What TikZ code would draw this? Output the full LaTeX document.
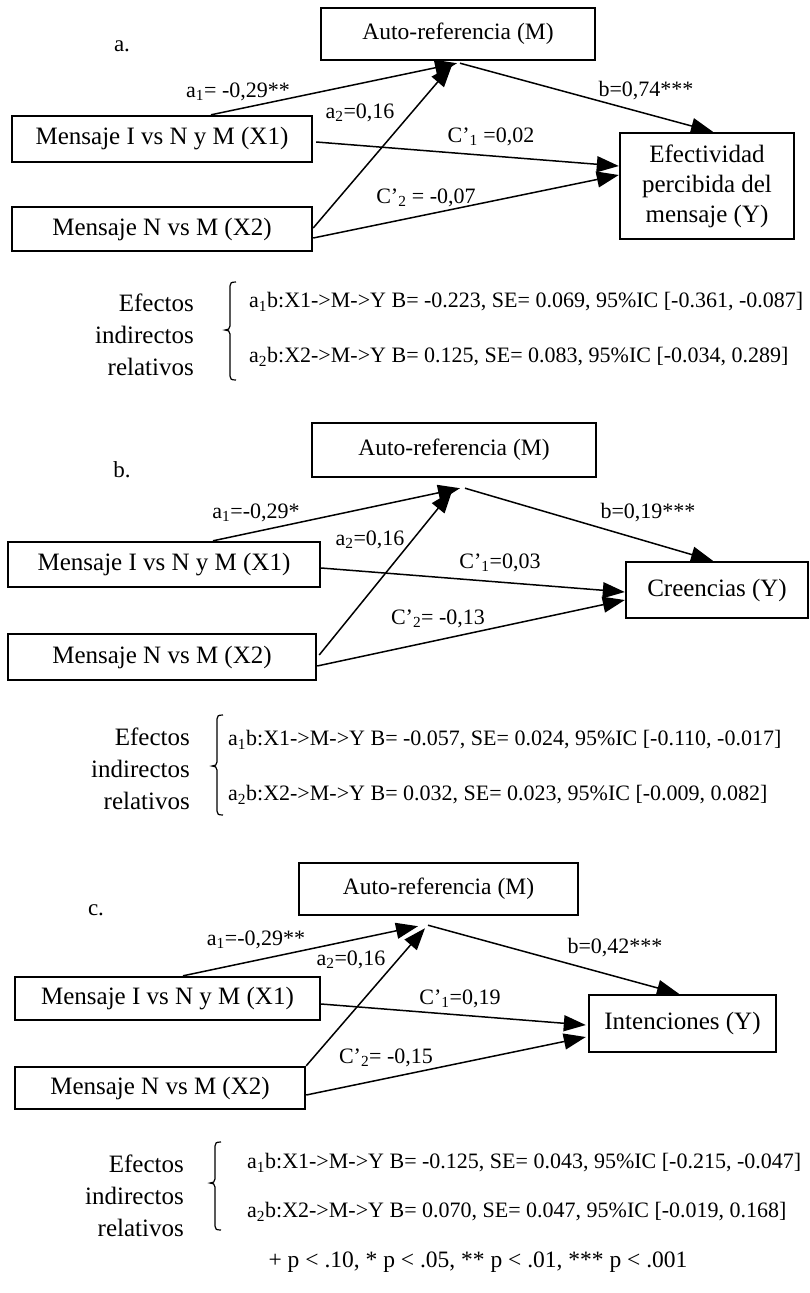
\documentclass[tikz,border=0pt]{standalone}
\usepackage{fontspec}
\setmainfont{Liberation Serif}
\usetikzlibrary{arrows.meta,calc}
\newcommand\mybrk[4]{% x, top, mid, bottom
  \draw[brk] ({#1+6},#2) .. controls ({#1+1},#2) and (#1,{#2+1}) .. (#1,{#2+4})
    -- (#1,{#3-4}) .. controls (#1,{#3-1}) and ({#1-2},#3) .. ({#1-5},#3)
    .. controls ({#1-2},#3) and (#1,{#3+1}) .. (#1,{#3+4})
    -- (#1,{#4-4}) .. controls (#1,{#4-1}) and ({#1+1},#4) .. ({#1+6},#4);}
\begin{document}
\begin{tikzpicture}[x=1pt,y=-1pt,
  box/.style={draw, line width=2.4pt, inner sep=0pt, font=\fontsize{25}{30}\selectfont},
  mbox/.style={box, font=\fontsize{23.5}{28}\selectfont},
  lab/.style={font=\fontsize{22}{26}\selectfont, inner sep=0pt},
  plet/.style={font=\fontsize{23}{26}\selectfont, inner sep=0pt},
  arr/.style={line width=1.5pt, -{Triangle[length=22pt,width=16pt]}},
  eff/.style={font=\fontsize{22}{26}\selectfont, inner sep=0pt, anchor=west},
  efflab/.style={font=\fontsize{25}{32}\selectfont, align=right, inner sep=0pt, anchor=east},
  brk/.style={line width=1.2pt}]
\useasboundingbox (0,0) rectangle (810,1293);

% ---------------- panel a ----------------
\node[plet] (la) at (122,46) {a.};
\node[mbox, minimum width=274pt, minimum height=52pt] (Ma) at (458,34) {Auto-referencia (M)};
\node[box, minimum width=300pt, minimum height=46pt] (X1a) at (162,139) {Mensaje I vs N y M (X1)};
\node[box, minimum width=300pt, minimum height=44pt] (X2a) at (162,229) {Mensaje N vs M (X2)};
\node[box, minimum width=174pt, minimum height=106pt, align=center] (Ya) at (707,186) {Efectividad\\percibida del\\mensaje (Y)};
\draw[arr] ($(X1a.north)+(49,0)$) -- ($(Ma.south)+(-1,2)$);
\draw[arr] ($(X2a.east)+(0,-1)$) -- ($(Ma.south)+(-6,4)$);
\draw[arr] ($(Ma.south)+(2,2)$) -- ($(Ya.north)+(6,0)$);
\draw[arr] ($(X1a.east)+(3,3)$) -- ($(Ya.west)+(0,-20)$);
\draw[arr] ($(X2a.east)+(0,9)$) -- ($(Ya.west)+(0,-11)$);
\node[lab] (a1a) at (238,92) {a\textsubscript{1}= -0,29**};
\node[lab] (a2a) at (360,113) {a\textsubscript{2}=0,16};
\node[lab] (ba) at (646,91) {b=0,74***};
\node[lab] (c1a) at (491,137) {C’\textsubscript{1} =0,02};
\node[lab] (c2a) at (426,198) {C’\textsubscript{2} = -0,07};
\node[efflab] (Ea) at (194,335) {Efectos\\indirectos\\relativos};
\mybrk{230}{282}{330}{380}
\node[eff] (ea1) at (249,302) {a\textsubscript{1}b:X1->M->Y B= -0.223, SE= 0.069, 95\%IC [-0.361, -0.087]};
\node[eff] (ea2) at (249,357) {a\textsubscript{2}b:X2->M->Y B= 0.125, SE= 0.083, 95\%IC [-0.034, 0.289]};

% ---------------- panel b ----------------
\node[plet] (lb) at (122,470) {b.};
\node[mbox, minimum width=284pt, minimum height=54pt] (Mb) at (454,450) {Auto-referencia (M)};
\node[box, minimum width=312pt, minimum height=45pt] (X1b) at (164,564.5) {Mensaje I vs N y M (X1)};
\node[box, minimum width=308pt, minimum height=46pt] (X2b) at (162,657) {Mensaje N vs M (X2)};
\node[box, minimum width=182pt, minimum height=56pt] (Yb) at (717,590) {Creencias (Y)};
\draw[arr] ($(X1b.north)+(49,0)$) -- ($(Mb.south)+(6,10)$);
\draw[arr] ($(X2b.east)+(2,-2)$) -- ($(Mb.south)+(-2,13)$);
\draw[arr] ($(Mb.south)+(11,10)$) -- ($(Yb.north)+(-4,0)$);
\draw[arr] ($(X1b.east)+(0,3.5)$) -- ($(Yb.west)+(0,2)$);
\draw[arr] ($(X2b.east)+(0,9)$) -- ($(Yb.west)+(0,10)$);
\node[lab] (a1b) at (256,513) {a\textsubscript{1}=-0,29*};
\node[lab] (a2b) at (370,540) {a\textsubscript{2}=0,16};
\node[lab] (bb) at (648,513) {b=0,19***};
\node[lab] (c1b) at (500,563) {C’\textsubscript{1}=0,03};
\node[lab] (c2b) at (438,619) {C’\textsubscript{2}= -0,13};
\node[efflab] (Eb) at (190,769) {Efectos\\indirectos\\relativos};
\mybrk{217}{715}{766}{815}
\node[eff] (eb1) at (228,740) {a\textsubscript{1}b:X1->M->Y B= -0.057, SE= 0.024, 95\%IC [-0.110, -0.017]};
\node[eff] (eb2) at (228,795) {a\textsubscript{2}b:X2->M->Y B= 0.032, SE= 0.023, 95\%IC [-0.009, 0.082]};

% ---------------- panel c ----------------
\node[plet] (lc) at (96,910) {c.};
\node[mbox, minimum width=279pt, minimum height=52pt] (Mc) at (438.5,889) {Auto-referencia (M)};
\node[box, minimum width=305pt, minimum height=43pt] (X1c) at (167.5,998.5) {Mensaje I vs N y M (X1)};
\node[box, minimum width=290pt, minimum height=42pt] (X2c) at (160,1088) {Mensaje N vs M (X2)};
\node[box, minimum width=187pt, minimum height=57pt] (Yc) at (682.5,1023.5) {Intenciones (Y)};
\draw[arr] ($(X1c.north)+(15.5,0)$) -- ($(Mc.south)+(-20.5,10)$);
\draw[arr] (X2c.north east) -- ($(Mc.south)+(-13.5,12)$);
\draw[arr] ($(Mc.south)+(-10.5,9)$) -- ($(Yc.north)+(-3.5,0)$);
\draw[arr] ($(X1c.east)+(0,5.5)$) -- ($(Yc.west)+(-2,1.5)$);
\draw[arr] ($(X2c.east)+(0,7)$) -- ($(Yc.west)+(-2,13.5)$);
\node[lab] (a1c) at (256,940) {a\textsubscript{1}=-0,29**};
\node[lab] (a2c) at (351,960) {a\textsubscript{2}=0,16};
\node[lab] (bc) at (615,948) {b=0,42***};
\node[lab] (c1c) at (460,999) {C’\textsubscript{1}=0,19};
\node[lab] (c2c) at (386,1058) {C’\textsubscript{2}= -0,15};
\node[efflab] (Ec) at (184,1196) {Efectos\\indirectos\\relativos};
\mybrk{215}{1142}{1183}{1230}
\node[eff] (ec1) at (247,1163) {a\textsubscript{1}b:X1->M->Y B= -0.125, SE= 0.043, 95\%IC [-0.215, -0.047]};
\node[eff] (ec2) at (247,1212) {a\textsubscript{2}b:X2->M->Y B= 0.070, SE= 0.047, 95\%IC [-0.019, 0.168]};

\node[font=\fontsize{23.5}{28}\selectfont, inner sep=0pt] (foot) at (478,1262) {+ p < .10, * p < .05, ** p < .01, *** p < .001};
\end{tikzpicture}
\end{document}
